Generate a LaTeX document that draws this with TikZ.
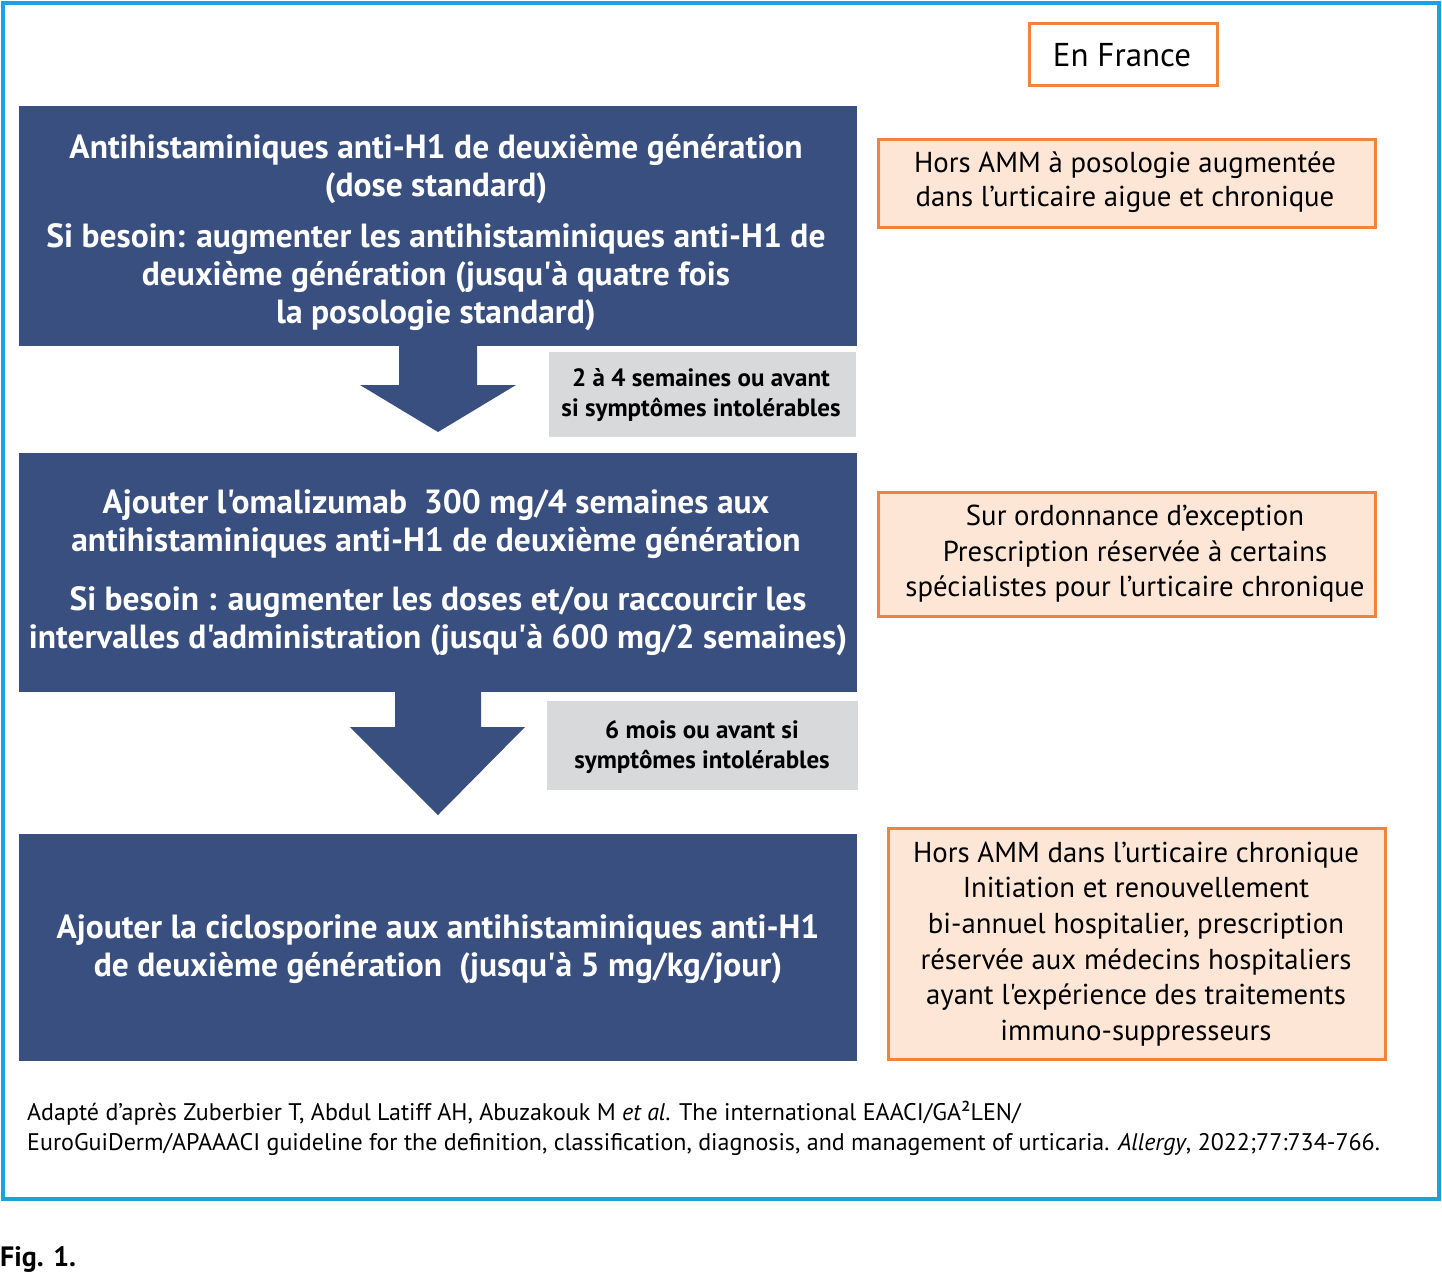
\documentclass[tikz,border=0pt]{standalone}
\usepackage{fontspec}
\setmainfont{PT Sans}[Ligatures=TeXOff]
\definecolor{frameblue}{HTML}{1FA0DC}
\definecolor{navy}{HTML}{394F80}
\definecolor{greybox}{HTML}{D8D9DB}
\definecolor{orangeline}{HTML}{F0843A}
\definecolor{orangefill}{HTML}{FDE6D6}
\begin{document}
\begin{tikzpicture}[x=1pt,y=-1pt,
  bluebox/.style={fill=navy, draw=none, anchor=north west, inner sep=0pt},
  bluetext/.style={text=white, align=center, inner sep=0pt, font=\fontsize{33.5}{38}\selectfont\bfseries},
  greyrect/.style={fill=greybox, draw=none, anchor=north west, inner sep=0pt},
  greytext/.style={text=black, align=center, inner sep=0pt, font=\fontsize{25}{30}\selectfont\bfseries},
  orangebox/.style={fill=orangefill, draw=orangeline, line width=2.5pt, anchor=north west, inner sep=0pt},
  orangetext/.style={text=black, align=center, inner sep=0pt},
  downarrow/.style={fill=navy, draw=none}
]
\useasboundingbox (0,0) rectangle (1442,1272);
% outer frame
\draw[frameblue, line width=4pt] (3,3) rectangle (1439,1199);

% blue boxes
\node[bluebox, minimum width=838pt, minimum height=240pt] (b1) at (19,106) {};
\node[bluebox, minimum width=838pt, minimum height=239pt] (b2) at (19,453) {};
\node[bluebox, minimum width=838pt, minimum height=227pt] (b3) at (19,834) {};

\node[bluetext] (t1a) at (436,169) {Antihistaminiques anti-H1 de deuxième génération\\(dose standard)};
\node[bluetext] (t1b) at (436,277) {Si besoin: augmenter les antihistaminiques anti-H1 de\\deuxième génération (jusqu'à quatre fois\\la posologie standard)};
\node[bluetext] (t2a) at (436,524) {Ajouter l'omalizumab\ \ 300 mg/4 semaines aux\\antihistaminiques anti-H1 de deuxième génération};
\node[bluetext] (t2b) at (438,621) {Si besoin : augmenter les doses et/ou raccourcir les\\intervalles d'administration (jusqu'à 600 mg/2 semaines)};
\node[bluetext] (t3) at (438,949) {Ajouter la ciclosporine aux antihistaminiques anti-H1\\de deuxième génération\ \ (jusqu'à 5 mg/kg/jour)};

% arrows
\fill[downarrow] (399,345) -- (477,345) -- (477,385) -- (516,385) -- (438,432) -- (360,385) -- (399,385) -- cycle;
\fill[downarrow] (395,691) -- (481,691) -- (481,727) -- (525,727) -- (438,815) -- (350,727) -- (395,727) -- cycle;

% grey boxes
\node[greyrect, minimum width=307pt, minimum height=85pt] (g1) at (549,352) {};
\node[greytext] (g1t) at (701,395) {2 à 4 semaines ou avant\\si symptômes intolérables};
\node[greyrect, minimum width=311pt, minimum height=89pt] (g2) at (547,701) {};
\node[greytext] (g2t) at (702,747) {6 mois ou avant si\\symptômes intolérables};

% orange boxes
\node[orangebox, fill=white, minimum width=188pt, minimum height=62pt] (fr) at (1028,22) {};
\node[orangetext, font=\fontsize{33}{36}\selectfont] (frt) at (1122,55) {En France};

\node[orangebox, minimum width=497pt, minimum height=88pt] (o1) at (877,138) {};
\node[orangetext, font=\fontsize{28.8}{33.5}\selectfont] (o1t) at (1125,182) {Hors AMM à posologie augmentée\\dans l’urticaire aigue et chronique};

\node[orangebox, minimum width=497pt, minimum height=124pt] (o2) at (877,491) {};
\node[orangetext, font=\fontsize{28.8}{35.5}\selectfont] (o2t) at (1135,554) {Sur ordonnance d’exception\\Prescription réservée à certains\\spécialistes pour l’urticaire chronique};

\node[orangebox, minimum width=497pt, minimum height=231pt] (o3) at (887,827) {};
\node[orangetext, font=\fontsize{28.8}{35.6}\selectfont] (o3t) at (1136,944) {Hors AMM dans l’urticaire chronique\\Initiation et renouvellement\\bi-annuel hospitalier, prescription\\réservée aux médecins hospitaliers\\ayant l'expérience des traitements\\immuno-suppresseurs};

% citation
\node[anchor=base west, inner sep=0pt, font=\fontsize{24}{30}\selectfont] (c1) at (27,1120) {Adapté d’après Zuberbier T, Abdul Latiff AH, Abuzakouk M \textit{et al}. The international EAACI/GA²LEN/};
\node[anchor=base west, inner sep=0pt, font=\fontsize{24}{30}\selectfont] (c2) at (27,1150) {EuroGuiDerm/APAAACI guideline for the definition, classification, diagnosis, and management of urticaria. \textit{Allergy}, 2022;77:734-766.};

% figure label
\node[anchor=base west, inner sep=0pt, font=\fontsize{28}{30}\selectfont\bfseries] (fig) at (0,1266) {Fig. 1.};
\end{tikzpicture}
\end{document}
